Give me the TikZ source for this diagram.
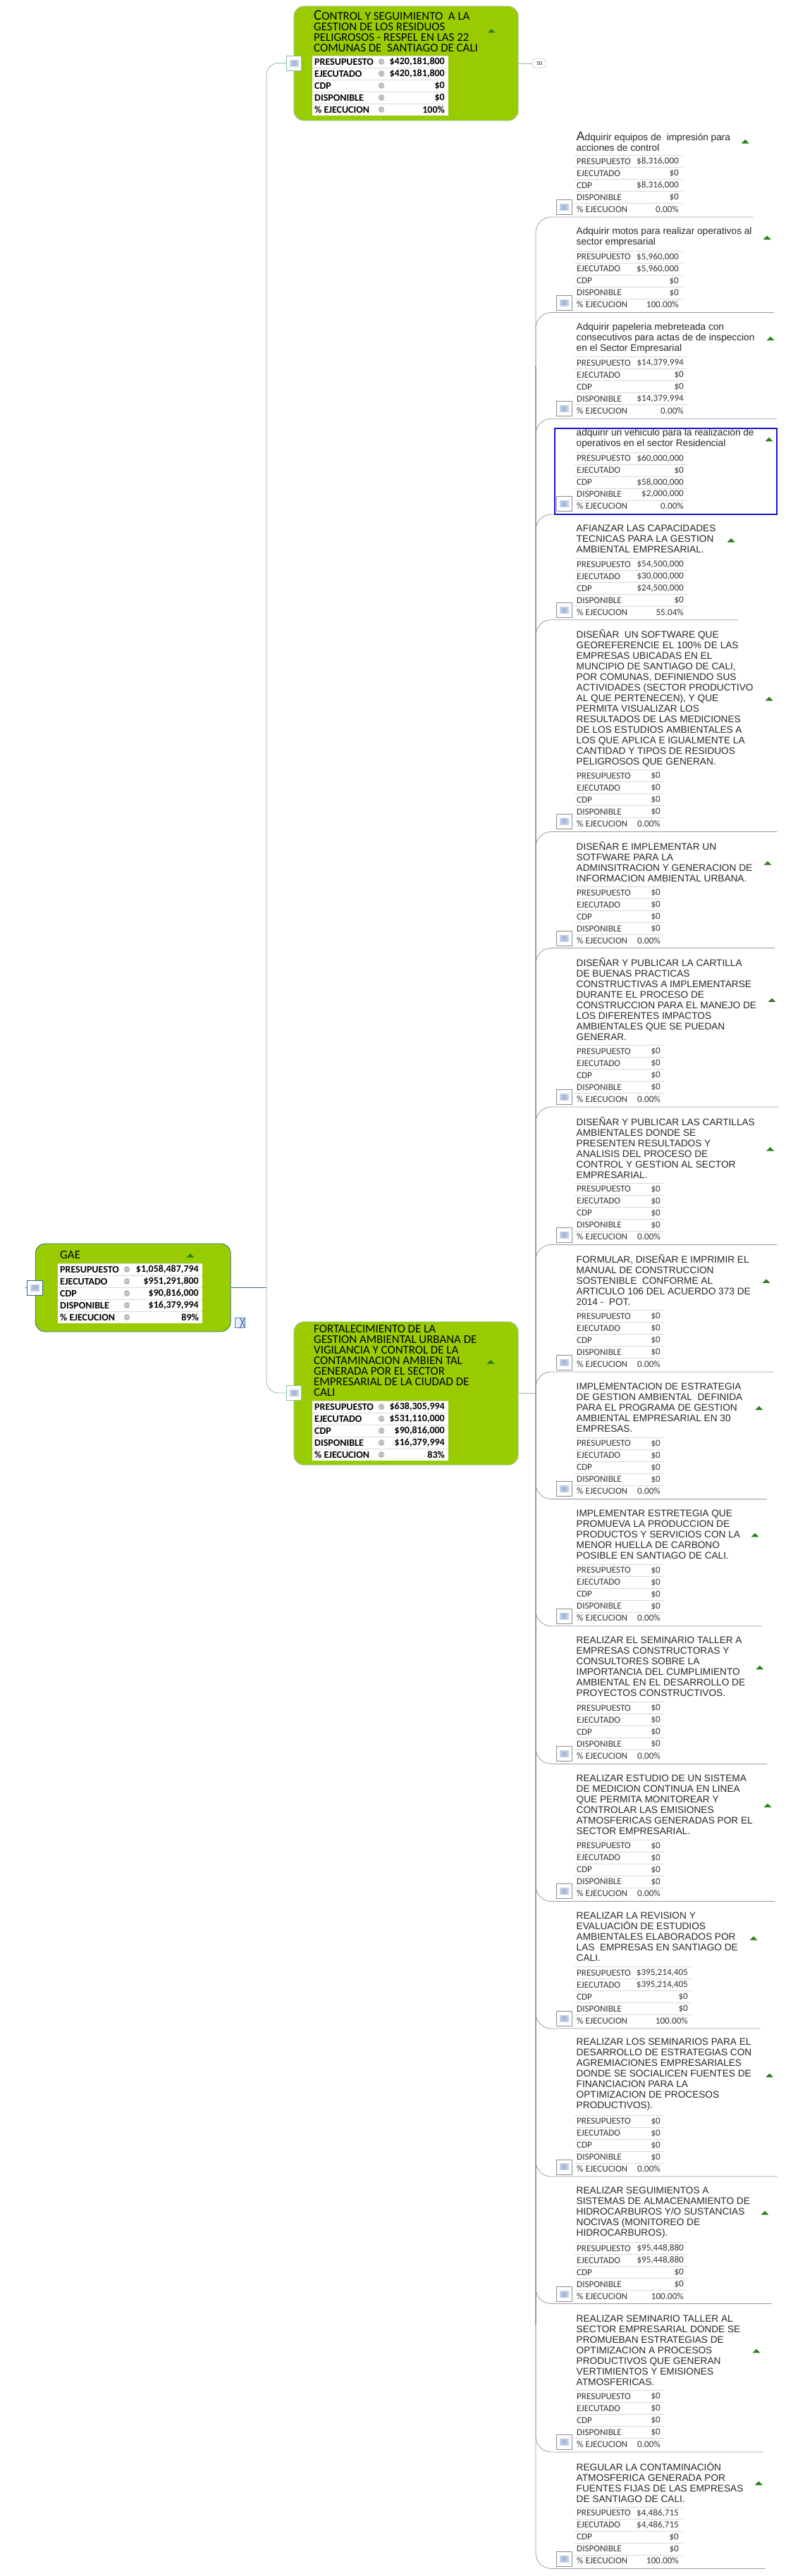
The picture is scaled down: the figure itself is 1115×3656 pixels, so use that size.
\documentclass[tikz,border=0pt]{standalone}
\usepackage{fontspec}
\setmainfont{Liberation Sans}
\newfontfamily\carlito{Carlito}
\usetikzlibrary{positioning,backgrounds}
\definecolor{verde}{HTML}{99CC00}
\definecolor{marca}{HTML}{2E7D1E}
\definecolor{azulic}{HTML}{C3D0E6}
\definecolor{azulos}{HTML}{A9BBD8}
\definecolor{azuldoc}{HTML}{5F7FB5}
\definecolor{grisrama}{HTML}{9A9A9A}
\definecolor{grisfila}{HTML}{DADADA}
\definecolor{teal}{HTML}{8DBB9E}
\definecolor{navy}{HTML}{2F6B8A}
\tikzset{
	bloque/.style={draw=#1,fill=verde,rounded corners=14pt,line width=.8pt,inner sep=0},
	icono/.style={draw=#1,fill=white,inner sep=0,line width=.8pt,minimum height=21pt,minimum width=22pt,
		path picture={
			\fill[azulic] ([shift={(-6.5pt,-5pt)}]path picture bounding box.center) rectangle ([shift={(6.5pt,5pt)}]path picture bounding box.center);
			\fill[azulos] ([shift={(-3.5pt,-3.5pt)}]path picture bounding box.center) rectangle ([shift={(4pt,3.5pt)}]path picture bounding box.center);
		}},
	titact/.style={anchor=west,align=left,inner sep=0,text=black!85,font=\fontsize{13.65}{15}\selectfont},
	titver/.style={anchor=west,align=left,inner sep=0,font=\carlito\fontsize{16.9}{15}\selectfont},
	filachica/.style={inner sep=0,text=black!80,font=\carlito\fontsize{13.1}{15}\selectfont},
	filaverde/.style={inner sep=0,text=black,font=\carlito\bfseries\fontsize{14}{15}\selectfont},
	rama/.style={draw=grisrama,line width=.8pt,rounded corners=22pt},
	tronco/.style={draw=grisrama,line width=1.6pt},
	ramaverde/.style={draw=teal,line width=.8pt,rounded corners=17pt},
	enlace/.style={draw=#1,line width=.8pt},
	engrane/.pic={
		\foreach \a in {0,45,...,315}
			\draw[line width=1.5pt,black!30] (0,0) -- (\a:4.6pt);
		\fill[black!30] (0,0) circle (3.4pt);
		\fill[white] (0,0) circle (1.2pt);
	}
}
\newcommand{\flecha}[2]{\fill[marca] (#1,#2) ++(-5.5,2.5) -- ++(11,0) -- ++(-5.5,-5.5) -- cycle;}
\newcommand{\tabla}[9]{
	\begin{scope}[shift={(0,#5)}]
		\foreach \i in {0,17,34,51,68}
			\draw[grisfila,line width=1pt] (#3,\i) -- (#4,\i);
		\node[#2,anchor=west] (#1-e1) at (#3+3,8.5) {PRESUPUESTO};
		\node[#2,anchor=west] (#1-e2) at (#3+3,25.5) {EJECUTADO};
		\node[#2,anchor=west] (#1-e3) at (#3+3,42.5) {CDP};
		\node[#2,anchor=west] (#1-e4) at (#3+3,59.5) {DISPONIBLE};
		\node[#2,anchor=west] (#1-e5) at (#3+3,76.5) {\% EJECUCION};
		\node[#2,anchor=east] (#1-v1) at (#4-5,8.5) {#6};
		\node[#2,anchor=east] (#1-v2) at (#4-5,25.5) {#7};
		\node[#2,anchor=east] (#1-v3) at (#4-5,42.5) {#8};
		\node[#2,anchor=east] (#1-v4) at (#4-5,59.5) {#9};
		\tablacierre{#1}{#2}{#4}
}
\newcommand{\tablacierre}[4]{
		\node[#2,anchor=east] (#1-v5) at (#3-5,76.5) {#4};
	\end{scope}
}
\newcommand{\fondotabla}[3]{
	\fill[white] (#1,#3) rectangle (#2,#3+85);
	\foreach \i in {8.5,25.5,42.5,59.5,76.5}
		\pic at (#1+98,#3+\i) {engrane};
}
\newcommand{\actividad}[7]{
	\coordinate (#1-fin) at (#7,#6);
	\draw[rama] (raiz) |- (#1-fin);
	\node[titact] (#1) at (817.5,#2) {#3};
	\flecha{#4}{#5}
}
\newcommand{\notita}[2]{\node[icono=black!45] (#1-ic) at (800,#2) {};}
\begin{document}
\begin{tikzpicture}[x=1pt,y=-1pt]
	\useasboundingbox (0,0) rectangle (1115,3656);
	\node[bloque=teal,minimum width=318pt,minimum height=162pt] (ctrl) at (576,90) {};
	\node[bloque=teal,minimum width=318pt,minimum height=203pt] (fort) at (576,1977.5) {};
	\node[bloque=navy,minimum width=277pt,minimum height=125pt] (gae) at (188.7,1827.5) {};
	\coordinate (bifurca) at (378,1827.5);
	\coordinate (raiz) at (760,1977.5);
	\coordinate (gaeizq) at (36,1827.5);
	\coordinate (troncoa) at (760,520);
	\coordinate (troncob) at (760,3300);
	\node[icono=teal,minimum width=21pt] (ctrl-ic) at (417,89.5) {};
	\node[icono=teal,minimum width=21pt] (fort-ic) at (417,1977) {};
	\node[icono=navy,minimum width=22pt] (gae-ic) at (49.5,1827.5) {};
	\node[draw=teal,fill=white,rounded corners=5pt,minimum width=20pt,minimum height=13pt,inner sep=0,font=\carlito\fontsize{8}{8}\selectfont] (diez) at (765,90) {10};
	\node[draw=azuldoc,fill=azulic!40,line width=.8pt,minimum width=14pt,minimum height=14pt,inner sep=0,
		path picture={\draw[azuldoc,line width=1.4pt] (path picture bounding box.south east) -- (path picture bounding box.north);
			\draw[azuldoc,line width=1.4pt] (path picture bounding box.north east) -- (path picture bounding box.south);}] (doc) at (340.5,1877) {};
	\begin{pgfonlayer}{background}
		\draw[enlace=navy] (gae) -- (bifurca);
		\draw[enlace=navy] (gae-ic) -- (gaeizq);
		\draw[ramaverde] (bifurca) |- (ctrl-ic);
		\draw[ramaverde] (bifurca) |- (fort-ic);
		\draw[enlace=teal] (fort) -- (raiz);
		\draw[enlace=teal] (ctrl) -- (diez);
	\end{pgfonlayer}

	\node[titver] (ctrl-tit) at (445,44.5) {{\fontsize{21}{15}\selectfont C}ONTROL Y SEGUIMIENTO~ A LA\\GESTION DE LOS RESIDUOS\\PELIGROSOS - RESPEL EN LAS 22\\COMUNAS DE~ SANTIAGO DE CALI};
	\flecha{697}{44}
	\fondotabla{443}{636}{79}
	\tabla{ctrl}{filaverde}{443}{636}{79}{\$420,181,800}{\$420,181,800}{\$0}{\$0}{100\%}

	\node[titver] (gae-tit) at (85,1781) {\fontsize{17}{17}\selectfont GAE};
	\flecha{270}{1782}
	\fondotabla{82}{287}{1793}
	\tabla{gae}{filaverde}{82}{287}{1793}{\$1,058,487,794}{\$951,291,800}{\$90,816,000}{\$16,379,994}{89\%}

	\node[titver] (fort-tit) at (445,1931) {FORTALECIMIENTO DE LA\\GESTION AMBIENTAL URBANA DE\\VIGILANCIA Y CONTROL DE LA\\CONTAMINACION AMBIEN TAL\\GENERADA POR EL SECTOR\\EMPRESARIAL DE LA CIUDAD DE\\CALI};
	\flecha{696}{1933}
	\fondotabla{443}{636}{1988}
	\tabla{fort}{filaverde}{443}{636}{1988}{\$638,305,994}{\$531,110,000}{\$90,816,000}{\$16,379,994}{83\%}

	\draw[tronco] (troncoa) -- (troncob);

	\actividad{act1}{200.8}{{\fontsize{18}{15}\selectfont A}dquirir equipos de~ impresión para\\acciones de control}{1057}{201}{308}{1068}
	\notita{act1}{294}
	\tabla{act1}{filachica}{815}{968}{220.4}{\$8,316,000}{\$0}{\$8,316,000}{\$0}{0.00\%}

	\actividad{act2}{336.5}{Adquirir motos para realizar operativos al\\sector empresarial}{1088}{337.5}{443.5}{1098}
	\notita{act2}{429.8}
	\tabla{act2}{filachica}{815}{968}{356}{\$5,960,000}{\$5,960,000}{\$0}{\$0}{100.00\%}

	\actividad{act3}{479.5}{Adquirir papeleria mebreteada con\\consecutivos para actas de de inspeccion\\en el Sector Empresarial}{1093}{480.6}{594.3}{1102}
	\notita{act3}{580}
	\tabla{act3}{filachica}{815}{975}{506.7}{\$14,379,994}{\$0}{\$0}{\$14,379,994}{0.00\%}

	\actividad{act4}{622.5}{adquirir un vehiculo para la realización de\\operativos en el sector Residencial}{1091}{623.8}{730}{1102}
	\notita{act4}{715}
	\tabla{act4}{filachica}{815}{975}{642}{\$60,000,000}{\$0}{\$58,000,000}{\$2,000,000}{0.00\%}
	\node[draw={rgb,255:red,20;green,20;blue,205},line width=2pt,minimum width=315pt,minimum height=122.5pt,inner sep=0] (seleccion) at (944.5,669.2) {};

	\actividad{act5}{765}{AFIANZAR LAS CAPACIDADES\\TECNICAS PARA LA GESTION\\AMBIENTAL EMPRESARIAL.}{1037}{767}{879.7}{1047}
	\notita{act5}{866}
	\tabla{act5}{filachica}{815}{975}{792.5}{\$54,500,000}{\$30,000,000}{\$24,500,000}{\$0}{55.04\%}

	\actividad{act6}{990.5}{DISEÑAR~ UN SOFTWARE QUE\\GEOREFERENCIE EL 100\% DE LAS\\EMPRESAS UBICADAS EN EL\\MUNCIPIO DE SANTIAGO DE CALI,\\POR COMUNAS, DEFINIENDO SUS\\ACTIVIDADES (SECTOR PRODUCTIVO\\AL QUE PERTENECEN), Y QUE\\PERMITA VISUALIZAR LOS\\RESULTADOS DE LAS MEDICIONES\\DE LOS ESTUDIOS AMBIENTALES A\\LOS QUE APLICA E IGUALMENTE LA\\CANTIDAD Y TIPOS DE RESIDUOS\\PELIGROSOS QUE GENERAN.}{1091}{992}{1180.5}{1102}
	\notita{act6}{1165.8}
	\tabla{act6}{filachica}{815}{942}{1092.5}{\$0}{\$0}{\$0}{\$0}{0.00\%}

	\actividad{act7}{1223.4}{DISEÑAR E IMPLEMENTAR UN\\SOTFWARE PARA LA\\ADMINSITRACION Y GENERACION DE\\INFORMACION AMBIENTAL URBANA.}{1089}{1225}{1345.5}{1099}
	\notita{act7}{1331.5}
	\tabla{act7}{filachica}{815}{942}{1258.6}{\$0}{\$0}{\$0}{\$0}{0.00\%}

	\actividad{act8}{1418.5}{DISEÑAR Y PUBLICAR LA CARTILLA\\DE BUENAS PRACTICAS\\CONSTRUCTIVAS A IMPLEMENTARSE\\DURANTE EL PROCESO DE\\CONSTRUCCION PARA EL MANEJO DE\\LOS DIFERENTES IMPACTOS\\AMBIENTALES QUE SE PUEDAN\\GENERAR.}{1095}{1419.6}{1571}{1105}
	\notita{act8}{1557}
	\tabla{act8}{filachica}{815}{942}{1483.6}{\$0}{\$0}{\$0}{\$0}{0.00\%}

	\actividad{act9}{1629.2}{DISEÑAR Y PUBLICAR LAS CARTILLAS\\AMBIENTALES DONDE SE\\PRESENTEN RESULTADOS Y\\ANALISIS DEL PROCESO DE\\CONTROL Y GESTION AL SECTOR\\EMPRESARIAL.}{1092.7}{1631}{1766.4}{1102.7}
	\notita{act9}{1752.5}
	\tabla{act9}{filachica}{815}{942}{1679}{\$0}{\$0}{\$0}{\$0}{0.00\%}

	\actividad{act10}{1817}{FORMULAR, DISEÑAR E IMPRIMIR EL\\MANUAL DE CONSTRUCCION\\SOSTENIBLE~ CONFORME AL\\ARTICULO 106 DEL ACUERDO 373 DE\\2014 -~ POT.}{1087}{1818.4}{1947}{1097}
	\notita{act10}{1933.6}
	\tabla{act10}{filachica}{815}{942}{1859.4}{\$0}{\$0}{\$0}{\$0}{0.00\%}

	\actividad{act11}{1997.3}{IMPLEMENTACION DE ESTRATEGIA\\DE GESTION AMBIENTAL~ DEFINIDA\\PARA EL PROGRAMA DE GESTION\\AMBIENTAL EMPRESARIAL EN 30\\EMPRESAS.}{1076.7}{1998.6}{2127.6}{1088}
	\notita{act11}{2113}
	\tabla{act11}{filachica}{815}{942}{2040}{\$0}{\$0}{\$0}{\$0}{0.00\%}

	\actividad{act12}{2178}{IMPLEMENTAR ESTRETEGIA QUE\\PROMUEVA LA PRODUCCION DE\\PRODUCTOS Y SERVICIOS CON LA\\MENOR HUELLA DE CARBONO\\POSIBLE EN SANTIAGO DE CALI.}{1071}{2178.9}{2307.8}{1080.7}
	\notita{act12}{2293.7}
	\tabla{act12}{filachica}{815}{942}{2220}{\$0}{\$0}{\$0}{\$0}{0.00\%}

	\actividad{act13}{2365.5}{REALIZAR EL SEMINARIO TALLER A\\EMPRESAS CONSTRUCTORAS Y\\CONSULTORES SOBRE LA\\IMPORTANCIA DEL CUMPLIMIENTO\\AMBIENTAL EN EL DESARROLLO DE\\PROYECTOS CONSTRUCTIVOS.}{1077.7}{2366.8}{2503.4}{1088}
	\notita{act13}{2489.3}
	\tabla{act13}{filachica}{815}{942}{2415.4}{\$0}{\$0}{\$0}{\$0}{0.00\%}

	\actividad{act14}{2561.3}{REALIZAR ESTUDIO DE UN SISTEMA\\DE MEDICION CONTINUA EN LINEA\\QUE PERMITA MONITOREAR Y\\CONTROLAR LAS EMISIONES\\ATMOSFERICAS GENERADAS POR EL\\SECTOR EMPRESARIAL.}{1089}{2562.6}{2698.5}{1099}
	\notita{act14}{2684.2}
	\tabla{act14}{filachica}{815}{942}{2611}{\$0}{\$0}{\$0}{\$0}{0.00\%}

	\actividad{act15}{2749.1}{REALIZAR LA REVISION Y\\EVALUACIÓN DE ESTUDIOS\\AMBIENTALES ELABORADOS POR\\LAS~ EMPRESAS EN SANTIAGO DE\\CALI.}{1069}{2751}{2879}{1079}
	\notita{act15}{2864.8}
	\tabla{act15}{filachica}{815}{981}{2791.5}{\$395,214,405}{\$395,214,405}{\$0}{\$0}{100.00\%}

	\actividad{act16}{2944.4}{REALIZAR LOS SEMINARIOS PARA EL\\DESARROLLO DE ESTRATEGIAS CON\\AGREMIACIONES EMPRESARIALES\\DONDE SE SOCIALICEN FUENTES DE\\FINANCIACION PARA LA\\OPTIMIZACION DE PROCESOS\\PRODUCTIVOS).}{1091.7}{2945.7}{3089}{1102.7}
	\notita{act16}{3075.4}
	\tabla{act16}{filachica}{815}{942}{3002}{\$0}{\$0}{\$0}{\$0}{0.00\%}

	\actividad{act17}{3140}{REALIZAR SEGUIMIENTOS A\\SISTEMAS DE ALMACENAMIENTO DE\\HIDROCARBUROS Y/O SUSTANCIAS\\NOCIVAS (MONITOREO DE\\HIDROCARBUROS).}{1085}{3140.8}{3269.5}{1095}
	\notita{act17}{3256}
	\tabla{act17}{filachica}{815}{975}{3182.3}{\$95,448,880}{\$95,448,880}{\$0}{\$0}{100.00\%}

	\actividad{act18}{3335.5}{REALIZAR SEMINARIO TALLER AL\\SECTOR EMPRESARIAL DONDE SE\\PROMUEBAN ESTRATEGIAS DE\\OPTIMIZACION A PROCESOS\\PRODUCTIVOS QUE GENERAN\\VERTIMIENTOS Y EMISIONES\\ATMOSFERICAS.}{1073}{3336.9}{3480}{1082.7}
	\notita{act18}{3465.6}
	\tabla{act18}{filachica}{815}{942}{3392.6}{\$0}{\$0}{\$0}{\$0}{0.00\%}

	\actividad{act19}{3523}{REGULAR LA CONTAMINACIÓN\\ATMOSFERICA GENERADA POR\\FUENTES FIJAS DE LAS EMPRESAS\\DE SANTIAGO DE CALI.}{1076.3}{3524.5}{3645.4}{1085.7}
	\notita{act19}{3631.6}
	\tabla{act19}{filachica}{815}{968}{3558}{\$4,486,715}{\$4,486,715}{\$0}{\$0}{100.00\%}
\end{tikzpicture}
\end{document}
